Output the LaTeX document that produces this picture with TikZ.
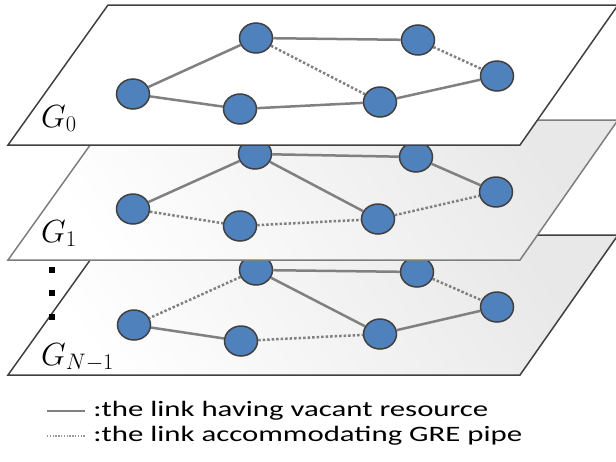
\RequirePackage{fix-cm}
\documentclass[tikz,border=0pt]{standalone}
\usepackage{fontspec}
\setmainfont{Carlito}
\usepackage{tikz}
\usetikzlibrary{shapes.geometric}
\definecolor{nodeblue}{RGB}{79,129,189}
\definecolor{rim}{RGB}{64,64,64}
\definecolor{link}{RGB}{128,128,128}
\definecolor{lightrim}{RGB}{125,125,125}

\begin{document}
\begin{tikzpicture}[x=1pt,y=-1pt,
  vert/.style={ellipse,draw=rim,line width=1.5pt,fill=nodeblue,minimum width=33pt,minimum height=30pt,inner sep=0pt},
  vacant/.style={draw=link,line width=2.5pt},
  gre/.style={draw=link,line width=2.5pt,dash pattern=on 2.5pt off 2pt},
  plane/.style={line width=1.5pt,draw=rim,line join=miter},
  grey plane/.style={plane,top color=black!9,bottom color=white,shading angle=-55},
  glabel/.style={anchor=base west,inner sep=0pt,font=\fontsize{32}{34}\selectfont},
  vdot/.style={rectangle,fill=black,minimum size=6pt,inner sep=0pt},
  legtext/.style={anchor=base west,inner sep=0pt,xscale=1.4,font=\fontsize{22}{24}\selectfont}]
  \useasboundingbox (0,0) rectangle (616,461);
  \clip (0,0) rectangle (616,461);

  % layer G_{N-1}
  \draw[grey plane] (108,235) -- (618,235) -- (520,375) -- (8,375) -- cycle;
  \node[vert] (na) at (256,270) {};
  \node[vert] (nb) at (417,272) {};
  \node[vert] (nc) at (497,307) {};
  \node[vert] (nd) at (134,325) {};
  \node[vert] (ne) at (241,341) {};
  \node[vert] (nf) at (380,334) {};
  \draw[vacant] (na) -- (nb);
  \draw[gre] (na) -- (nd);
  \draw[vacant] (na) -- (nf);
  \draw[gre] (nb) -- (nc);
  \draw[vacant] (nd) -- (ne);
  \draw[gre] (ne) -- (nf);
  \draw[vacant] (nf) -- (nc);
  \node[glabel] (gn) at (41,365) {$G_{N-1}$};

  % layer G_1
  \draw[grey plane,draw=lightrim] (108,120) -- (618,120) -- (520,260) -- (8,260) -- cycle;
  \node[vert] (ua) at (255,154) {};
  \node[vert] (ub) at (416,157) {};
  \node[vert] (uc) at (496,192) {};
  \node[vert] (ud) at (133,209) {};
  \node[vert] (ue) at (240,226) {};
  \node[vert] (uf) at (378,219) {};
  \draw[vacant] (ua) -- (ub);
  \draw[vacant] (ua) -- (ud);
  \draw[vacant] (ua) -- (uf);
  \draw[vacant] (ub) -- (uc);
  \draw[gre] (ud) -- (ue);
  \draw[gre] (ue) -- (uf);
  \draw[gre] (uf) -- (uc);
  \node[glabel] (g1) at (41,242) {$G_1$};

  % layer G_0
  \draw[plane,fill=white] (108,5) -- (618,5) -- (520,145) -- (8,145) -- cycle;
  \node[vert] (ta) at (256,38) {};
  \node[vert] (tb) at (418,40) {};
  \node[vert] (tc) at (497,76) {};
  \node[vert] (td) at (133,94) {};
  \node[vert] (te) at (240,109) {};
  \node[vert] (tf) at (380,102) {};
  \draw[vacant] (ta) -- (tb);
  \draw[vacant] (ta) -- (td);
  \draw[vacant] (td) -- (te);
  \draw[vacant] (te) -- (tf);
  \draw[vacant] (tf) -- (tc);
  \draw[gre] (ta) -- (tf);
  \draw[gre] (tb) -- (tc);
  \node[glabel] (g0) at (41,127) {$G_0$};

  % vertical dots
  \node[vdot] (dot1) at (52,270) {};
  \node[vdot] (dot2) at (52,293) {};
  \node[vdot] (dot3) at (52,317) {};

  % legend
  \coordinate (s1) at (47,411);
  \coordinate (s2) at (85,411);
  \coordinate (d1) at (47,436);
  \coordinate (d2) at (85,436);
  \draw[draw=link,line width=2pt] (s1) -- (s2);
  \draw[draw=link!80,line width=1.4pt,dash pattern=on 1.4pt off 1.4pt] (d1) -- (d2);
  \node[legtext] (leg1) at (93,416) {:the link having vacant resource};
  \node[legtext] (leg2) at (93,441) {:the link accommodating GRE pipe};
\end{tikzpicture}
\end{document}
